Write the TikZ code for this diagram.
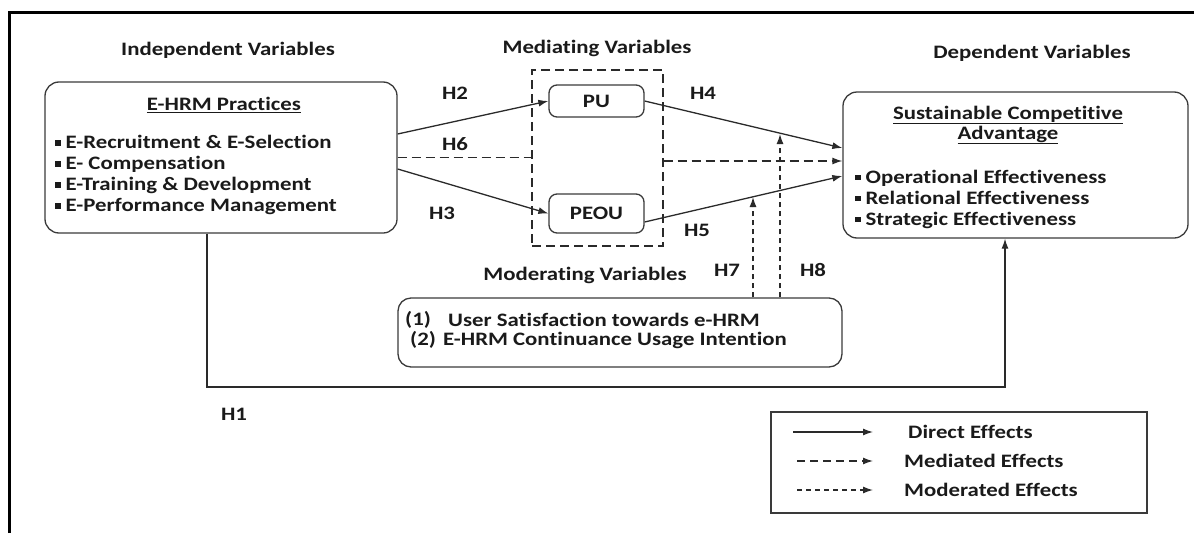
\documentclass[tikz,border=0pt]{standalone}
\usepackage{fontspec}
\setmainfont{Carlito}[FakeStretch=1.2, Ligatures=NoCommon]
\usetikzlibrary{arrows.meta,calc}
\definecolor{txt}{HTML}{1A1A1A}
\definecolor{boxc}{HTML}{3A3A3A}
\definecolor{linec}{HTML}{2A2A2A}
\newcommand{\bul}{\raisebox{3pt}{\rule{5.5pt}{5.5pt}}\hspace{5pt}}
\begin{document}
\begin{tikzpicture}[x=1pt,y=-1pt,
  every node/.style={font=\fontsize{19}{21}\selectfont\bfseries, text=txt, inner sep=0pt},
  box/.style={draw=boxc, line width=1.3pt, rounded corners=14pt},
  smallbox/.style={draw=boxc, line width=1.3pt, rounded corners=8pt},
  conn/.style={draw=linec, line width=1.3pt},
  arr/.style={conn, -{Latex[length=10pt,width=7pt]}},
  med/.style={dash pattern=on 9pt off 5pt},
  mod/.style={dash pattern=on 5pt off 4pt},
  legbox/.style={draw=boxc, line width=1.3pt}
]
\useasboundingbox (0,0) rectangle (1194,533);
% outer frame (cut off at right and bottom)
\draw[line width=3pt, black] (9.5,533) -- (9.5,12.5) -- (1194,12.5);

% boxes
\node[box, minimum width=352pt, minimum height=151pt] (ehrm) at (221,157.5) {};
\node[conn, med, minimum width=131pt, minimum height=176pt] (medbox) at (597.5,158) {};
\node[smallbox, minimum width=95pt, minimum height=32pt] (pu) at (596.5,101) {};
\node[smallbox, minimum width=95pt, minimum height=39pt] (peou) at (596.5,213.5) {};
\node[box, minimum width=345pt, minimum height=146pt] (sca) at (1015.5,165) {};
\node[box, rounded corners=13pt, minimum width=444pt, minimum height=69pt] (modbox) at (620,332.5) {};
\node[legbox, minimum width=376pt, minimum height=101pt] (legend) at (959,462.5) {};

% headings
\node (indep) at (228,50) {Independent Variables};
\node (medv) at (597,48) {Mediating Variables};
\node (dep) at (1032,53) {Dependent Variables};
\node (modv) at (585,275) {Moderating Variables};

% box contents
\node (ehrmt) at (224,105) {\underline{E-HRM Practices}};
\node[anchor=west, align=left] (ehrml) at (55,175) {\bul E-Recruitment \& E-Selection\\ \bul E- Compensation\\ \bul E-Training \& Development\\ \bul E-Performance Management};
\node (putxt) at (pu) {PU};
\node (peoutxt) at (peou) {PEOU};
\node[align=center, font=\fontsize{19}{20}\selectfont\bfseries] (scat) at (1008,125) {\underline{Sustainable Competitive}\\\underline{Advantage}};
\node[anchor=west, align=left] (scal) at (855,199) {\bul Operational Effectiveness\\ \bul Relational Effectiveness\\ \bul Strategic Effectiveness};
\node[anchor=west] (m1n) at (405,320) {(1)};
\node[anchor=west] (m1t) at (448,320) {User Satisfaction towards e-HRM};
\node[anchor=west] (m2n) at (410,340) {(2)};
\node[anchor=west] (m2t) at (443,340) {E-HRM Continuance Usage Intention};

% hypothesis labels
\node (h2) at (455,93) {H2};
\node (h6) at (455,144) {H6};
\node (h3) at (442,213) {H3};
\node (h4) at (703,93) {H4};
\node (h5) at (697,230) {H5};
\node (h7) at (727,270) {H7};
\node (h8) at (813,270) {H8};
\node (h1) at (234,414) {H1};

% connector anchor points
\coordinate (h2s) at ($(ehrm.east)+(0,-23.5)$);
\coordinate (h3s) at ($(ehrm.east)+(0,11.5)$);
\coordinate (h4s) at ($(pu.east)+(0,0)$);
\coordinate (h5s) at ($(peou.east)+(0,8.5)$);
\coordinate (h4e) at ($(sca.west)+(0,-17)$);
\coordinate (h6e) at ($(sca.west)+(0,-4)$);
\coordinate (h5e) at ($(sca.west)+(0,11)$);
\coordinate (h6m) at (medbox.west |- ehrm.east);
\coordinate (h6r) at (medbox.east |- h6e);
\coordinate (h7t) at (753,197);
\coordinate (h8t) at (780,134);
\coordinate (h1s) at (ehrm.south -| 207,0);
\coordinate (h1e) at (sca.south -| 1005,0);

% direct effects
\draw[arr] (h2s) -- (pu.west);
\draw[arr] (h3s) -- (peou.west);
\draw[arr] (h4s) -- (h4e);
\draw[arr] (h5s) -- (h5e);
\draw[arr] (h1s) -- (207,387) -- (1005,387) -- (h1e);
% mediated
\draw[conn, med] (ehrm.east) -- (h6m);
\draw[arr, med] (h6r) -- (h6e);
% moderated
\draw[arr, mod] (modbox.north -| h7t) -- (h7t);
\draw[arr, mod] (modbox.north -| h8t) -- (h8t);

% legend
\coordinate (l1a) at (793,432); \coordinate (l1b) at (873,432);
\coordinate (l2a) at (797,461); \coordinate (l2b) at (873,461);
\coordinate (l3a) at (797,490); \coordinate (l3b) at (873,490);
\draw[arr] (l1a) -- (l1b);
\draw[arr, dash pattern=on 8pt off 5pt] (l2a) -- (l2b);
\draw[arr, dash pattern=on 5pt off 4pt] (l3a) -- (l3b);
\node[anchor=west] (lt1) at (908,432) {Direct Effects};
\node[anchor=west] (lt2) at (904,461) {Mediated Effects};
\node[anchor=west] (lt3) at (904,490) {Moderated Effects};
\end{tikzpicture}
\end{document}
